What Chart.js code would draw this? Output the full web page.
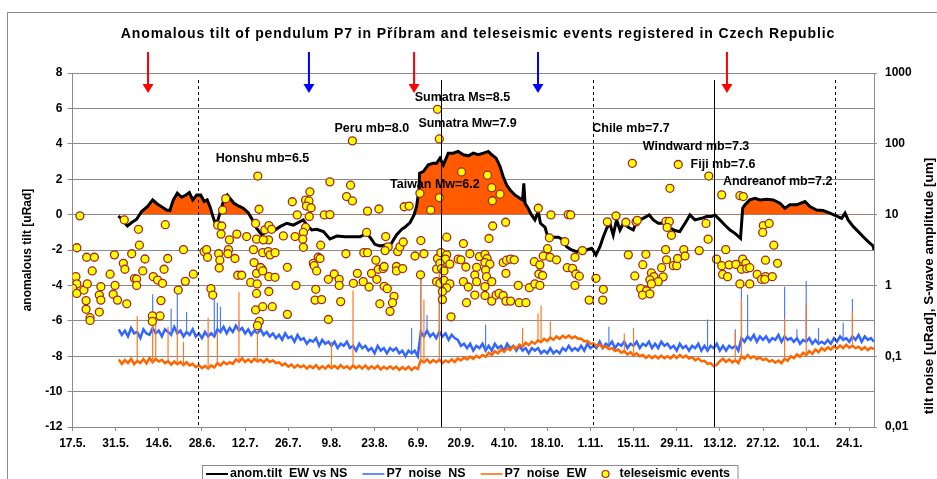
<!DOCTYPE html>
<html>
<head>
<meta charset="utf-8">
<script src="https://cdn.jsdelivr.net/npm/chart.js@4.4.1/dist/chart.umd.min.js"></script>
<style>
  html, body { margin: 0; padding: 0; background: #fff; }
</style>
</head>
<body>
<canvas id="chart" width="937" height="479"></canvas>
<script>
// Anomalous tilt of pendulum P7 (Pribram) vs teleseismic events
// x axis = days since 17.5.

const xTickLabels = ['17.5.', '31.5.', '14.6.', '28.6.', '12.7.', '26.7.', '9.8.', '23.8.', '6.9.', '20.9.',
  '4.10.', '18.10.', '1.11.', '15.11.', '29.11.', '13.12.', '27.12.', '10.1.', '24.1.'];
const xTickStep = 14;
const xMaxDay = 260;
const leftTickValues = [-12, -10, -8, -6, -4, -2, 0, 2, 4, 6, 8];
const rightTickValues = [0.01, 0.1, 1, 10, 100, 1000];
const rightTickLabels = ['0,01', '0,1', '1', '10', '100', '1000'];

// anomalous tilt EW vs NS [uRad]
const tiltDays = [14.9, 16, 17.8, 19.2, 20.8, 22.4, 24.3, 26, 27.5, 28.9, 30.5, 31.6, 32.7, 34, 35.4, 36.8, 37.9, 39, 40.3, 41.6,
  42.7, 43.7, 44.6, 45.5, 46.3, 47.2, 48.1, 49.1, 50.2, 51.5, 52.4, 53.8, 55.4, 57, 58.4, 59.7, 61.4, 63, 64.1, 65.7,
  67.3, 69.5, 71.6, 73.8, 74.9, 76, 77.6, 79.2, 81.4, 83.5, 85.7, 88.4, 91.1, 93.3, 95.4, 96.5, 98.1, 99.7, 101.4, 103,
  104.1, 105.1, 106.8, 107.8, 109.5, 110.8, 111.6, 112.4, 112.6, 113.8, 115.4, 117, 118.1, 119.2, 120.3, 121.9, 123.5, 125.1, 126.8, 128.4,
  130, 131.6, 133.3, 134.9, 136, 137.4, 138.7, 139.7, 140.8, 141.9, 143.5, 145.1, 146, 146.4, 146.8, 147.8, 148.9, 150, 151.1, 151.8,
  153.3, 154.3, 155.9, 157.6, 159.2, 160.3, 161.9, 163.5, 165.1, 166.8, 168.4, 169.8, 171.1, 172.2, 173.3, 174.3, 175.4, 176.5, 177.6, 178.7,
  180.3, 181.9, 183, 185.1, 187.1, 188.4, 190, 192.2, 193.8, 195.4, 197, 198.7, 200.3, 201.9, 204.1, 205.7, 207.3, 208.4, 210, 211.6,
  213.3, 214.9, 216.7, 217.4, 218.1, 219.7, 221.4, 223, 225.2, 227.3, 229.5, 231.1, 232.7, 234.9, 237.6, 239.2, 241.4, 243.5, 245.7, 247.9,
  249.5, 250.6, 251.6, 253.3, 254.9, 256.5, 258.1, 259.7, 260];
const tiltValues = [-0.08, -0.26, -0.64, -0.45, -0.26, 0.17, 0.45, 0.83, 0.6, 0.45, 0.26, 0.23, 0.83, 1.21, 0.98, 1.11, 1.25, 0.83, 1.11, 1.11,
  0.74, 0.83, 0.45, -0.08, -0.49, -0.3, 0.26, 0.83, 1.11, 0.83, 0.64, 0.49, 0.36, 0.11, -0.3, -0.77, -1.15, -0.96, -0.77, -0.87,
  -0.68, -0.49, -0.59, -0.4, -0.3, -0.59, -0.87, -0.83, -0.96, -1.38, -1.21, -1.25, -1.25, -1.25, -1.06, -1.28, -1.68, -1.77, -1.72, -1.77,
  -1.43, -1.15, -0.83, -0.72, -0.45, -0.02, 0.45, 1.4, 2.34, 2.43, 2.81, 2.9, 2.9, 3.19, 2.81, 3.47, 3.47, 3.57, 3.38, 3.32,
  3.47, 3.38, 3.47, 3.57, 3.38, 3.19, 2.72, 2.15, 1.68, 1.4, 1.11, 0.92, 0.83, 1.77, 0.64, 0.36, -0.02, -0.3, 0.17, -0.49,
  -0.72, -1.34, -1.28, -1.28, -1.43, -1.81, -2.0, -2.1, -2.0, -2.0, -1.9, -2.28, -1.81, -1.25, -0.77, -0.49, -1.15, -0.3, -0.87, -0.49,
  -0.72, -0.87, -0.4, -0.21, -0.02, -0.3, -0.49, -0.49, -0.75, -0.9, -0.96, -0.49, -0.02, -0.3, -0.21, -0.11, -0.11, -0.02, -0.3, -0.59,
  -0.87, -1.06, -1.34, 0.36, 0.55, 0.83, 0.92, 0.83, 0.87, 0.83, 0.64, 0.36, 0.55, 0.55, 0.74, 0.45, 0.26, 0.23, 0.08, -0.08,
  -0.21, 0.08, -0.3, -0.68, -0.96, -1.25, -1.53, -1.77, -2.0];

// P7 noise, one value per day from day 15 [uRad]
const noiseStartDay = 15;
const noiseNs = [
  0.24, 0.20, 0.23, 0.19, 0.25, 0.21, 0.22, 0.18, 0.24, 0.21,
  0.20, 0.25, 0.21, 0.23, 0.19, 0.24, 0.22, 0.20, 0.26, 0.21,
  0.23, 0.19, 0.22, 0.20, 0.24, 0.19, 0.21, 0.18, 0.22, 0.19,
  0.21, 0.19, 0.24, 0.22, 0.26, 0.21, 0.25, 0.22, 0.27, 0.23,
  0.25, 0.21, 0.24, 0.20, 0.23, 0.21, 0.24, 0.20, 0.22, 0.19,
  0.21, 0.18, 0.20, 0.17, 0.21, 0.18, 0.19, 0.16, 0.20, 0.17,
  0.18, 0.15, 0.17, 0.16, 0.18, 0.14, 0.17, 0.15, 0.16, 0.14,
  0.16, 0.13, 0.15, 0.14, 0.16, 0.13, 0.14, 0.12, 0.15, 0.13,
  0.14, 0.12, 0.13, 0.11, 0.14, 0.12, 0.13, 0.11, 0.13, 0.12,
  0.13, 0.11, 0.12, 0.10, 0.12, 0.11, 0.12, 0.10, 0.22, 0.19,
  0.23, 0.19, 0.21, 0.18, 0.22, 0.19, 0.21, 0.17, 0.20, 0.18,
  0.17, 0.14, 0.15, 0.13, 0.15, 0.12, 0.14, 0.13, 0.15, 0.12,
  0.14, 0.12, 0.15, 0.13, 0.14, 0.12, 0.15, 0.13, 0.14, 0.12,
  0.14, 0.12, 0.13, 0.11, 0.13, 0.12, 0.13, 0.11, 0.12, 0.11,
  0.13, 0.11, 0.12, 0.11, 0.13, 0.12, 0.14, 0.12, 0.13, 0.12,
  0.14, 0.12, 0.15, 0.13, 0.14, 0.13, 0.16, 0.13, 0.15, 0.14,
  0.16, 0.13, 0.15, 0.14, 0.16, 0.13, 0.15, 0.14, 0.16, 0.13,
  0.15, 0.14, 0.16, 0.13, 0.15, 0.13, 0.16, 0.14, 0.15, 0.13,
  0.14, 0.12, 0.15, 0.13, 0.14, 0.12, 0.14, 0.13, 0.15, 0.12,
  0.14, 0.12, 0.14, 0.13, 0.15, 0.12, 0.14, 0.12, 0.14, 0.13,
  0.14, 0.12, 0.18, 0.16, 0.19, 0.17, 0.20, 0.16, 0.19, 0.17,
  0.19, 0.16, 0.18, 0.17, 0.20, 0.16, 0.19, 0.17, 0.18, 0.16,
  0.18, 0.15, 0.17, 0.16, 0.18, 0.15, 0.17, 0.15, 0.16, 0.15,
  0.17, 0.15, 0.18, 0.16, 0.19, 0.17, 0.18, 0.16, 0.19, 0.17,
  0.20, 0.16, 0.19, 0.17, 0.18, 0.16];
const noiseEw = [
  0.090, 0.078, 0.088, 0.080, 0.092, 0.077, 0.086, 0.080, 0.091, 0.079,
  0.094, 0.082, 0.092, 0.084, 0.089, 0.080, 0.085, 0.076, 0.084, 0.077,
  0.083, 0.075, 0.082, 0.074, 0.078, 0.070, 0.075, 0.068, 0.073, 0.067,
  0.074, 0.069, 0.080, 0.074, 0.083, 0.077, 0.082, 0.078, 0.090, 0.084,
  0.093, 0.083, 0.090, 0.082, 0.092, 0.084, 0.089, 0.082, 0.091, 0.083,
  0.087, 0.080, 0.082, 0.074, 0.079, 0.071, 0.076, 0.069, 0.075, 0.070,
  0.074, 0.067, 0.073, 0.068, 0.075, 0.066, 0.072, 0.067, 0.074, 0.068,
  0.073, 0.067, 0.075, 0.068, 0.072, 0.066, 0.074, 0.068, 0.073, 0.067,
  0.074, 0.066, 0.072, 0.067, 0.073, 0.065, 0.071, 0.066, 0.072, 0.066,
  0.071, 0.064, 0.070, 0.065, 0.071, 0.064, 0.070, 0.066, 0.088, 0.082,
  0.090, 0.081, 0.088, 0.082, 0.089, 0.080, 0.087, 0.082, 0.090, 0.083,
  0.093, 0.087, 0.096, 0.090, 0.099, 0.092, 0.101, 0.095, 0.104, 0.098,
  0.112, 0.104, 0.118, 0.110, 0.124, 0.115, 0.130, 0.122, 0.138, 0.128,
  0.146, 0.137, 0.155, 0.144, 0.160, 0.150, 0.168, 0.158, 0.176, 0.164,
  0.184, 0.170, 0.190, 0.176, 0.194, 0.182, 0.196, 0.180, 0.190, 0.176,
  0.178, 0.162, 0.165, 0.150, 0.152, 0.140, 0.145, 0.132, 0.138, 0.126,
  0.130, 0.118, 0.124, 0.112, 0.118, 0.106, 0.114, 0.102, 0.110, 0.100,
  0.104, 0.095, 0.102, 0.094, 0.101, 0.093, 0.102, 0.094, 0.100, 0.093,
  0.103, 0.094, 0.104, 0.096, 0.102, 0.093, 0.097, 0.088, 0.093, 0.085,
  0.086, 0.078, 0.080, 0.072, 0.076, 0.085, 0.092, 0.083, 0.090, 0.082,
  0.088, 0.080, 0.100, 0.092, 0.104, 0.094, 0.100, 0.091, 0.096, 0.088,
  0.092, 0.084, 0.088, 0.081, 0.087, 0.080, 0.092, 0.086, 0.100, 0.094,
  0.106, 0.098, 0.112, 0.104, 0.118, 0.108, 0.124, 0.114, 0.130, 0.120,
  0.134, 0.124, 0.138, 0.128, 0.142, 0.130, 0.145, 0.132, 0.140, 0.130,
  0.136, 0.124, 0.134, 0.122, 0.132, 0.126];

// noise spikes (day, peak)
const nsSpikeDays = [26, 32, 34, 37, 46, 47, 48, 54, 110, 113, 115, 119, 134, 174, 206, 215, 217, 219, 231, 235, 238, 242, 250, 253];
const nsSpikeTops = [0.75, 0.47, 0.97, 0.42, 0.92, 0.57, 0.5, 0.32, 0.25, 1.6, 0.38, 1.4, 0.28, 0.26, 0.33, 0.24, 1.0, 0.74, 0.96, 0.24, 1.15, 0.25, 0.3, 0.64];
const ewSpikeDays = [21, 26, 27, 31, 34, 36, 44, 47, 54, 60, 84, 91, 113, 114, 119, 146, 151, 152, 155, 179, 182, 215, 217, 231, 238, 253];
const ewSpikeTops = [0.37, 0.45, 0.42, 0.26, 0.24, 0.16, 0.35, 0.22, 0.8, 0.23, 0.16, 0.85, 1.3, 0.63, 1.75, 0.25, 0.4, 0.52, 0.31, 0.21, 0.25, 0.22, 0.65, 0.34, 0.56, 0.43];

// teleseismic events: day and S-wave amplitude [um]
const eventDays = [
  2.4, 1.4, 4.6, 7.1, 6.4, 1.1, 1.4, 0.1, 1.4, 3.7, 4.8, 4.4, 4.4, 5.7, 5.7, 8.7, 8.7, 9.2, 9.2, 12.2,
  13.6, 13.8, 13.2, 14.6, 16.5, 17.0, 17.6, 16.8, 21.4, 21.7, 19.2, 23.5, 22.8, 20.1, 20.8, 20.8, 26.2, 27.6, 29.2, 29.7,
  30.9, 30.1, 36.0, 39.2, 36.6, 34.3, 28.7, 28.4, 25.9, 25.9, 42.7, 43.5, 43.8, 44.9, 45.5, 47.1, 48.4, 48.2, 48.7, 49.7,
  47.4, 47.8, 47.6, 50.9, 50.6, 50.4, 53.3, 52.7, 53.6, 54.9, 56.5, 57.8, 59.4, 60.1, 60.5, 59.7, 58.9, 58.7, 59.7, 59.9,
  59.7, 59.4, 60.6, 60.0, 61.7, 63.7, 61.5, 61.7, 63.5, 63.6, 61.9, 62.4, 63.7, 61.0, 61.7, 63.7,
  90.8, 83.5, 90.2, 77.0, 71.3, 75.6, 76.7, 75.9, 77.4, 88.9,
  90.8, 95.7, 99.4, 107.6, 109.2, 112.7, 119.0, 116.2, 126.2, 72.9,
  76.8, 81.7, 83.5, 75.6, 74.9, 74.7, 72.2, 68.4, 64.6, 74.9,
  80.5, 95.4, 101.6, 102.4, 101.4, 88.7, 94.5, 95.7, 105.5, 106.2,
  107.3, 111.1, 113.0, 114.0, 121.4, 126.8, 64.1, 65.7, 69.7, 65.7,
  72.5, 64.8, 69.7, 78.1, 78.4, 79.7, 80.3, 79.2, 83.0, 84.9,
  86.5, 86.5, 78.9, 78.7, 80.8, 87.0, 83.0, 92.4, 91.1, 94.3,
  96.2, 97.0, 98.7, 98.4, 99.2, 100.8, 101.1, 101.1, 102.1, 104.3,
  103.8, 99.7, 103.0, 105.1, 105.1, 107.1, 112.9, 118.1, 118.4, 119.5,
  121.4, 121.0, 122.4, 119.2, 119.7, 120.5, 118.1, 119.2, 120.5, 122.4,
  121.4, 120.0, 120.0, 125.1, 126.0, 127.6, 122.8, 126.8, 128.4, 127.8,
  118.4, 119.0,
  134.6, 136.0, 138.7, 136.2, 151.1, 155.2, 160.8, 161.6, 140.5, 136.3,
  135.1, 154.7, 159.7, 154.1, 165.4, 163.0, 128.9, 132.0, 133.8, 134.5,
  133.8, 135.4, 134.0, 131.1, 130.5, 134.3, 136.0, 131.1, 133.8, 130.5,
  133.8, 136.0, 137.4, 138.4, 139.7, 140.6, 142.1, 140.6, 139.7, 140.8,
  142.1, 143.3, 144.6, 144.9, 147.1, 148.2, 150.0, 151.6, 151.3, 152.5,
  149.8, 151.6, 152.7, 154.9, 157.0, 160.5, 162.2, 163.3, 164.4, 163.0,
  169.8, 172.2, 172.0, 167.6, 173.5, 176.3, 179.5, 182.8, 183.2, 181.6,
  193.8, 196.5, 192.5, 193.6, 192.9, 194.3, 180.3, 186.0, 192.4, 192.7,
  185.0, 191.1, 194.9, 196.0, 196.3, 187.8, 188.6, 187.3, 191.6, 190.0,
  187.8, 182.4, 184.3, 186.2, 184.9, 187.3,
  206.4, 210.6, 216.5, 217.6, 205.5, 206.2, 224.1, 226.0, 223.9, 227.5,
  198.3, 203.3, 211.9, 198.7, 208.9, 210.6, 213.0, 215.2, 217.4, 218.4,
  217.0, 218.7, 219.7, 224.8, 228.7, 210.9, 212.5, 222.1, 223.5, 224.8,
  224.6, 227.0, 216.5, 219.7];
const eventAmps = [
  9.6, 3.4, 2.5, 2.5, 1.6, 1.33, 1.05, 0.91, 0.77, 0.86, 1.05, 0.61, 0.46, 0.35, 0.32, 0.42, 0.73, 0.62, 0.96, 1.44,
  2.7, 1.0, 0.75, 0.62, 2.05, 1.69, 0.55, 8.4, 6.2, 3.7, 2.8, 2.36, 1.6, 1.25, 1.23, 1.0, 1.33, 1.19, 1.07, 1.69,
  2.4, 7.2, 3.2, 1.44, 1.14, 0.86, 0.61, 0.37, 0.37, 0.31, 3.0, 3.2, 2.5, 0.9, 0.73, 7.1, 6.9, 5.3, 11.6, 16.8,
  2.8, 2.27, 1.76, 4.4, 3.2, 2.8, 5.3, 2.4, 1.39, 1.39, 4.9, 1.1, 7.5, 35, 11.9, 4.5, 2.1, 3.2, 1.48, 1.05,
  0.77, 0.45, 0.31, 0.27, 0.5, 0.82, 1.69, 2.9, 3.0, 4.4, 4.4, 6.1, 7.0, 1.79, 1.6, 1.33,
  110, 29, 26, 21, 15.2, 16, 15.6, 13.2, 12.5, 18,
  15.6, 11.2, 12, 12.9, 13.2, 20, 17.4, 11.6, 40, 9.9,
  9.4, 9.9, 10, 6.6, 5.6, 4.5, 4.9, 5.0, 6.2, 3.45,
  3.7, 5.6, 4.9, 3.5, 3.1, 2.8, 2.9, 2.9, 3.0, 3.5,
  4.1, 2.6, 4.3, 2.8, 4.8, 3.9, 2.7, 2.9, 1.8, 1.3,
  1.0, 0.5, 0.39, 2.05, 1.9, 2.5, 2.4, 1.6, 1.22, 1.45,
  1.22, 1.0, 0.88, 0.62, 0.63, 0.59, 0.33, 1.48, 1.07, 1.13,
  0.95, 1.48, 1.22, 2.27, 1.69, 1.73, 1.85, 0.97, 0.9, 0.7,
  0.57, 0.55, 0.43, 1.85, 1.6, 1.73, 1.41, 1.7, 2.4, 2.9,
  2.7, 2.35, 2.0, 2.05, 1.73, 1.6, 1.13, 1.07, 1.18, 1.05,
  0.92, 0.82, 0.63, 2.35, 2.3, 1.82, 0.36, 1.13, 0.95, 0.57,
  307, 117,
  36, 24, 19.4, 15.7, 12.3, 9.9, 10, 9.9, 7.8, 6.9,
  4.6, 4.7, 4.15, 3.3, 3.1, 2.5, 2.8, 2.55, 2.75, 2.4,
  2.1, 2.0, 1.65, 1.8, 1.4, 1.33, 1.13, 1.13, 0.96, 0.73,
  0.72, 0.6, 0.73, 0.77, 0.72, 0.6, 0.6, 1.48, 2.1, 2.27,
  2.35, 2.3, 1.0, 0.57, 0.57, 0.93, 1.05, 1.0, 1.45, 1.38,
  2.16, 1.95, 2.6, 2.5, 2.3, 1.78, 1.74, 1.45, 1.35, 1.0,
  1.26, 0.88, 0.62, 0.62, 7.9, 9.6, 7.8, 7.9, 8.3, 53,
  23.5, 51, 8.0, 8.0, 6.6, 5.1, 2.7, 2.75, 3.2, 2.3,
  1.96, 1.78, 1.9, 1.9, 2.4, 1.5, 1.33, 1.2, 1.32, 1.13,
  1.05, 1.36, 0.9, 0.84, 0.73, 0.76,
  35, 19, 18.5, 18, 7.5, 4.5, 7.0, 7.5, 5.6, 3.7,
  3.2, 3.1, 3.2, 2.6, 2.35, 1.9, 1.95, 1.98, 2.35, 2.05,
  1.69, 1.73, 1.78, 2.27, 2.05, 1.43, 1.33, 1.43, 1.22, 1.33,
  1.22, 1.33, 1.05, 1.05];

// annotations
const quakeLabels = ['Sumatra Ms=8.5', 'Sumatra Mw=7.9', 'Peru mb=8.0', 'Honshu mb=6.5', 'Taiwan Mw=6.2',
  'Chile mb=7.7', 'Windward mb=7.3', 'Fiji mb=7.6', 'Andreanof mb=7.2'];
const quakeLabelDays = [111, 112.2, 85, 46.5, 103, 168.6, 185, 200.5, 211];
const quakeLabelLevels = [6.64, 5.12, 4.84, 3.14, 1.67, 4.84, 3.82, 2.8, 1.84];
const arrowDays = [24.5, 76.7, 110.8, 151.0, 212.3];
const arrowColors = ['#ff0000', '#0000ff', '#ff0000', '#0000ff', '#ff0000'];
const markerDays = [40.7, 119.4, 168.7, 208.1, 247.5];
const markerDashed = [true, false, true, false, true];

const FONT = 'Arial, "Liberation Sans", sans-serif';
Chart.defaults.font.family = FONT;
Chart.defaults.color = '#000';

function bandPoints(base) {
  return base.map((v, i) => ({ x: noiseStartDay + i, y: v }));
}

// each spike is a thin vertical stroke from the band level up to its peak
function spikePoints(base, spikeDays, spikeTops) {
  const pts = [];
  spikeDays.forEach(function (d, k) {
    const v = base[d - noiseStartDay];
    pts.push({ x: d, y: v }, { x: d, y: spikeTops[k] }, { x: d, y: null });
  });
  return pts;
}

const tiltPoints = tiltDays.map((d, i) => ({ x: d, y: tiltValues[i] }));
const eventPoints = eventDays.map((d, i) => ({ x: d, y: eventAmps[i] }));

const decorations = {
  id: 'decorations',
  beforeDraw(chart) {
    const ctx = chart.ctx;
    ctx.save();
    ctx.fillStyle = '#fff';
    ctx.fillRect(0, 0, chart.width, chart.height);
    ctx.restore();
  },
  afterDatasetsDraw(chart) {
    const ctx = chart.ctx;
    const area = chart.chartArea;
    const xs = chart.scales.x;
    ctx.save();
    ctx.strokeStyle = '#000';
    ctx.lineWidth = 1;
    markerDays.forEach(function (d, i) {
      const x = Math.round(xs.getPixelForValue(d)) + 0.5;
      ctx.setLineDash(markerDashed[i] ? [3, 3] : []);
      ctx.beginPath();
      ctx.moveTo(x, area.top + 7);
      ctx.lineTo(x, area.bottom);
      ctx.stroke();
    });
    ctx.restore();
  },
  afterDraw(chart) {
    const ctx = chart.ctx;
    const area = chart.chartArea;
    const xs = chart.scales.x;
    const ys = chart.scales.y;

    ctx.save();
    // outer frame
    ctx.strokeStyle = '#8c8c8c';
    ctx.lineWidth = 1;
    ctx.strokeRect(7.5, 12.5, chart.width + 10, chart.height + 10);

    // title
    ctx.fillStyle = '#000';
    ctx.font = 'bold 14px ' + FONT;
    ctx.textAlign = 'center';
    ctx.textBaseline = 'middle';
    ctx.letterSpacing = '0.9px';
    ctx.fillText('Anomalous tilt of pendulum P7 in Příbram and teleseismic events registered in Czech Republic', 478, 34);
    ctx.letterSpacing = '0px';

    // axis titles
    ctx.save();
    ctx.translate(28, (area.top + area.bottom) / 2);
    ctx.rotate(-Math.PI / 2);
    ctx.font = 'bold 12px ' + FONT;
    ctx.fillText('anomalous tilt [uRad]', 0, 0);
    ctx.restore();
    ctx.save();
    ctx.translate(929, 286);
    ctx.rotate(-Math.PI / 2);
    ctx.font = 'bold 13.5px ' + FONT;
    ctx.fillText('tilt noise [uRad], S-wave amplitude [um]', 0, 0);
    ctx.restore();

    // arrows
    arrowDays.forEach(function (d, i) {
      const x = xs.getPixelForValue(d);
      const tip = area.top + 20;
      ctx.strokeStyle = arrowColors[i];
      ctx.fillStyle = arrowColors[i];
      ctx.lineWidth = 2;
      ctx.beginPath();
      ctx.moveTo(x, area.top - 21);
      ctx.lineTo(x, tip - 8);
      ctx.stroke();
      ctx.beginPath();
      ctx.moveTo(x - 5.5, tip - 9);
      ctx.lineTo(x + 5.5, tip - 9);
      ctx.lineTo(x, tip);
      ctx.closePath();
      ctx.fill();
    });

    // earthquake labels
    ctx.fillStyle = '#000';
    ctx.font = 'bold 12.5px ' + FONT;
    ctx.textAlign = 'left';
    quakeLabels.forEach(function (t, i) {
      ctx.fillText(t, xs.getPixelForValue(quakeLabelDays[i]), ys.getPixelForValue(quakeLabelLevels[i]));
    });

    // legend
    const legY = 474;
    let x = 206;
    ctx.font = 'bold 12.5px ' + FONT;
    chart.data.datasets.forEach(function (ds) {
      if (ds.hideInLegend) return;
      if (ds.type === 'scatter') {
        ctx.beginPath();
        ctx.arc(x + 4, legY, 3.5, 0, Math.PI * 2);
        ctx.fillStyle = ds.backgroundColor;
        ctx.fill();
        ctx.lineWidth = 1.2;
        ctx.strokeStyle = ds.borderColor;
        ctx.stroke();
        x += 18;
      } else {
        ctx.strokeStyle = ds.borderColor;
        ctx.lineWidth = ds.yAxisID === 'y' ? 2 : 1.5;
        ctx.beginPath();
        ctx.moveTo(x, legY);
        ctx.lineTo(x + 22, legY);
        ctx.stroke();
        x += 24;
      }
      ctx.fillStyle = '#000';
      ctx.fillText(ds.label, x, legY);
      x += ctx.measureText(ds.label).width + 15;
    });
    ctx.strokeStyle = '#8c8c8c';
    ctx.lineWidth = 1;
    ctx.strokeRect(202.5, 465.5, x - 15 + 8 - 202.5, 30);
    ctx.restore();
  }
};

new Chart(document.getElementById('chart').getContext('2d'), {
  type: 'line',
  data: {
    datasets: [
      {
        label: 'anom.tilt  EW vs NS',
        data: tiltPoints,
        yAxisID: 'y',
        borderColor: '#000',
        borderWidth: 3,
        pointRadius: 0,
        fill: { target: { value: 0 }, above: '#ff5a00', below: 'rgba(0,0,0,0)' },
        order: 1
      },
      {
        label: 'P7  noise  NS',
        data: bandPoints(noiseNs),
        yAxisID: 'y1',
        borderColor: '#3366ff',
        borderWidth: 2.5,
        pointRadius: 0,
        fill: false,
        order: 5
      },
      {
        label: 'P7  noise  EW',
        data: bandPoints(noiseEw),
        yAxisID: 'y1',
        borderColor: '#ff6600',
        borderWidth: 2.5,
        pointRadius: 0,
        fill: false,
        order: 3
      },
      {
        label: 'NS spikes',
        hideInLegend: true,
        data: spikePoints(noiseNs, nsSpikeDays, nsSpikeTops),
        yAxisID: 'y1',
        borderColor: '#4d7cff',
        borderWidth: 1.2,
        pointRadius: 0,
        fill: false,
        order: 4
      },
      {
        label: 'EW spikes',
        hideInLegend: true,
        data: spikePoints(noiseEw, ewSpikeDays, ewSpikeTops),
        yAxisID: 'y1',
        borderColor: '#ff7a26',
        borderWidth: 1.2,
        pointRadius: 0,
        fill: false,
        order: 2
      },
      {
        type: 'scatter',
        label: 'teleseismic events',
        data: eventPoints,
        yAxisID: 'y1',
        backgroundColor: '#ffff00',
        borderColor: '#a02828',
        borderWidth: 1.3,
        pointRadius: 4,
        order: 0
      }
    ]
  },
  options: {
    responsive: false,
    animation: false,
    devicePixelRatio: 1,
    layout: { padding: { top: 73, bottom: 20, left: 0, right: 0 } },
    plugins: { legend: { display: false }, tooltip: { enabled: false } },
    scales: {
      x: {
        type: 'linear',
        min: 0,
        max: xMaxDay,
        afterBuildTicks: function (s) { s.ticks = xTickLabels.map((_, i) => ({ value: i * xTickStep })); },
        afterFit: function (s) { s.height = 32; },
        ticks: {
          autoSkip: false, maxRotation: 0, minRotation: 0, padding: 5,
          font: { size: 12, weight: 'bold' },
          callback: function (v, i) { return xTickLabels[i]; }
        },
        grid: { drawOnChartArea: false, tickLength: 4, color: '#8c8c8c' },
        border: { color: '#8c8c8c' }
      },
      y: {
        position: 'left',
        min: -12,
        max: 8,
        afterBuildTicks: function (s) { s.ticks = leftTickValues.map(v => ({ value: v })); },
        afterFit: function (s) { s.width = 72.5; },
        ticks: { padding: 5, font: { size: 12, weight: 'bold' } },
        grid: { color: '#8c8c8c', tickLength: 5 },
        border: { color: '#8c8c8c' }
      },
      y1: {
        type: 'logarithmic',
        position: 'right',
        min: 0.01,
        max: 1000,
        afterBuildTicks: function (s) { s.ticks = rightTickValues.map(v => ({ value: v })); },
        afterFit: function (s) { s.width = 63; },
        ticks: {
          autoSkip: false, padding: 8,
          font: { size: 12, weight: 'bold' },
          callback: function (v, i) { return rightTickLabels[i]; }
        },
        grid: { drawOnChartArea: false, tickLength: 3, color: '#8c8c8c' },
        border: { color: '#8c8c8c' }
      }
    }
  },
  plugins: [decorations]
});
</script>
</body>
</html>
